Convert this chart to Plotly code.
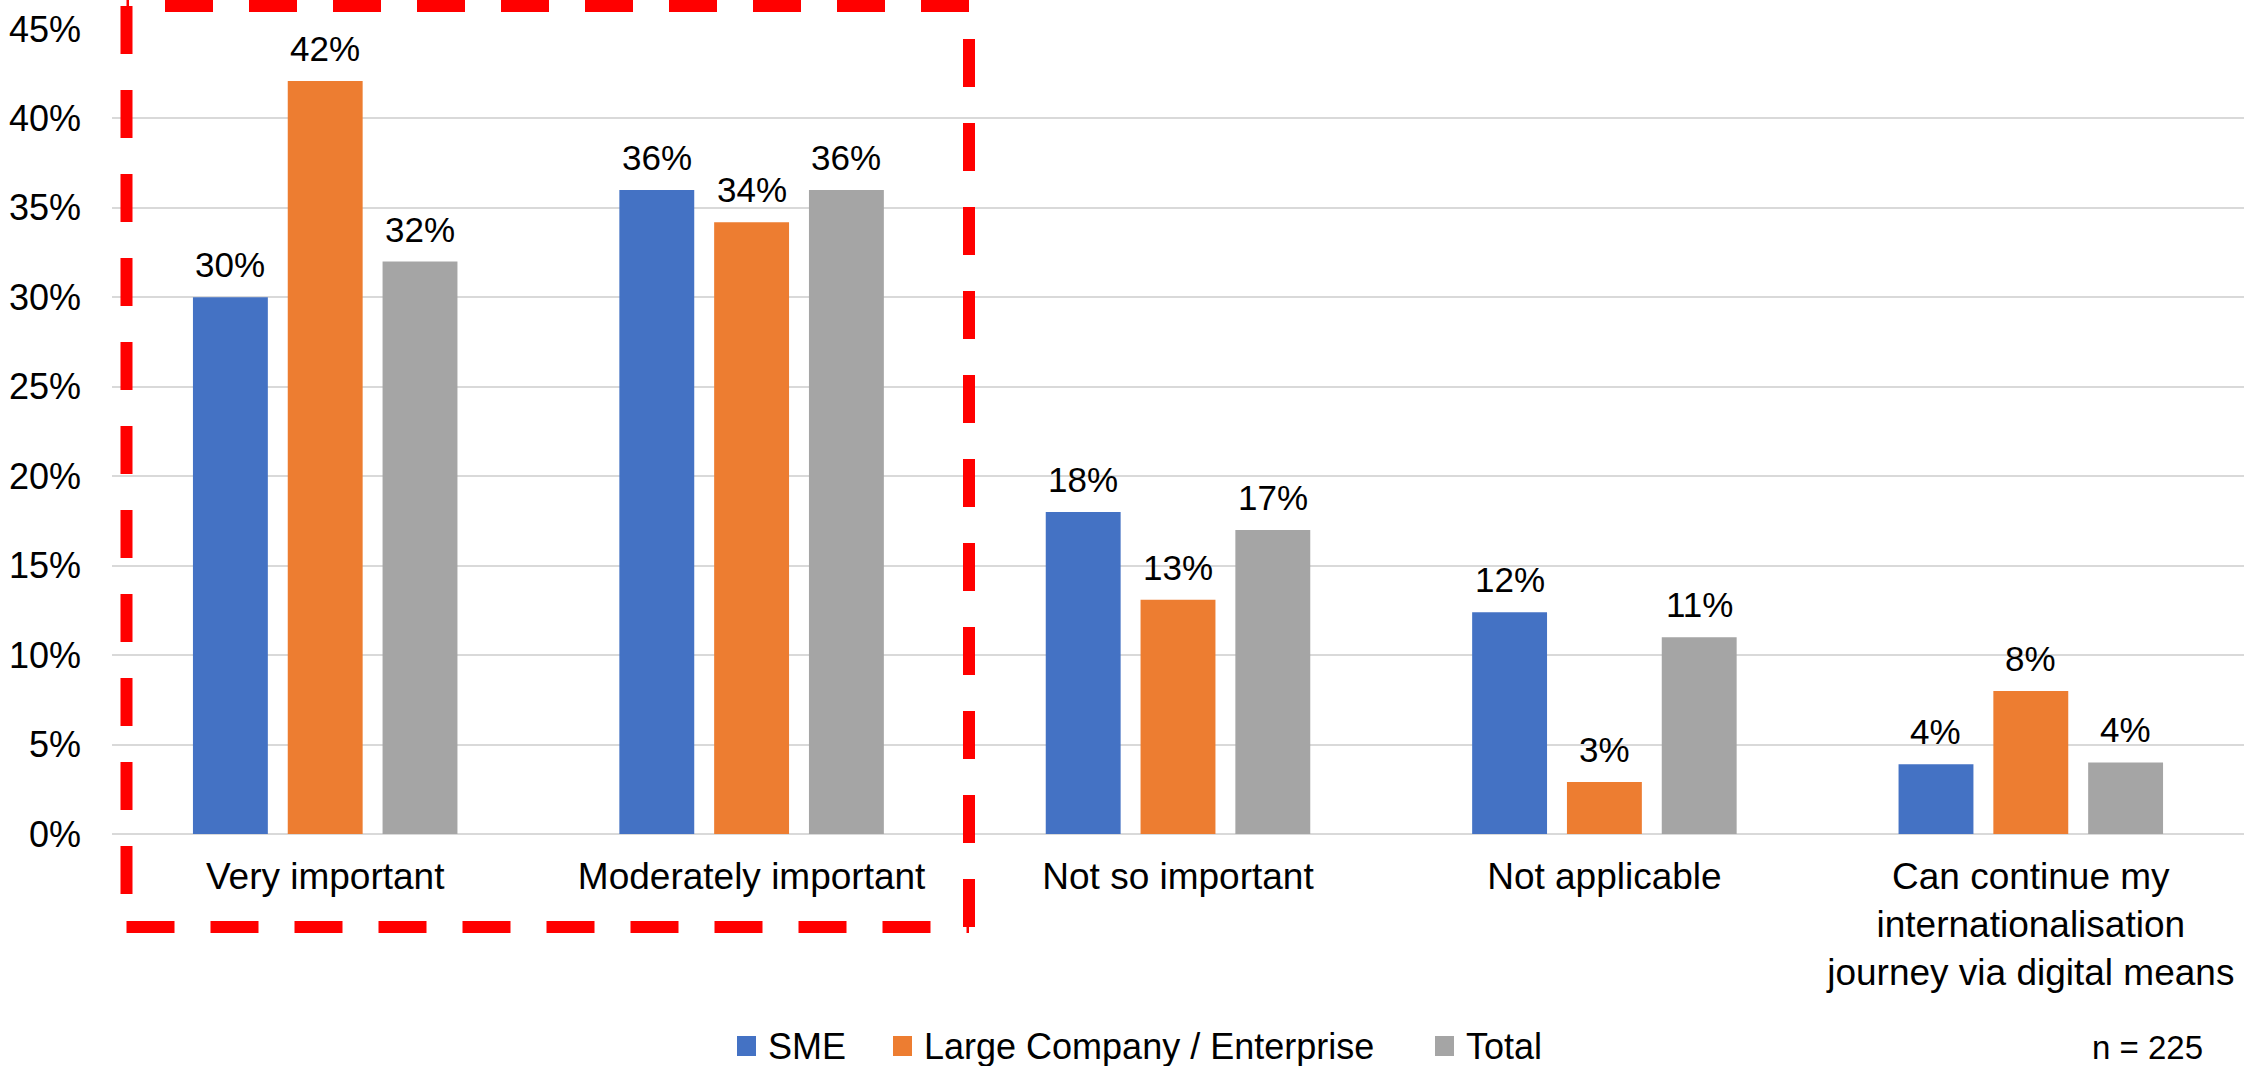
import plotly.graph_objects as go

# ---- data ----
categories = [
    "Very important",
    "Moderately important",
    "Not so important",
    "Not applicable",
    "Can continue my<br>internationalisation<br>journey via digital means",
]
series_names = ["SME", "Large Company / Enterprise", "Total"]
sme = [30.0, 36.0, 18.0, 12.4, 3.9]
large = [42.1, 34.2, 13.1, 2.9, 8.0]
total = [32.0, 36.0, 17.0, 11.0, 4.0]
y_ticks = [0, 5, 10, 15, 20, 25, 30, 35, 40, 45]
y_tick_labels = [f"{v}%" for v in y_ticks]
sample_note = "n = 225"

# ---- style ----
W, H = 2244, 1066
ML, MR, MT, MB = 112, 0, 29, 232
colors = ["#4472C4", "#ED7D31", "#A5A5A5"]
FONT = "Liberation Sans, Arial, Helvetica, sans-serif"
BARGAP = 0.333
BARGROUPGAP = 0.21

PW = W - ML - MR
PH = H - MT - MB


def px(x):
    return (x - ML) / PW


def py(y):
    return (H - MB - y) / PH


fig = go.Figure()
all_series = [sme, large, total]
for name, vals, col in zip(series_names, all_series, colors):
    fig.add_trace(go.Bar(
        x=categories, y=vals, name=name,
        marker=dict(color=col, line=dict(width=0)),
        showlegend=False,
        hoverinfo="x+y+name",
    ))

# data labels as annotations (offset to each bar of the group)
cat_w = PW / len(categories)
slot = cat_w * (1 - BARGAP) / len(all_series)
annotations = []
for i, vals in enumerate(all_series):
    off = (i - (len(all_series) - 1) / 2) * slot
    for c, v in zip(categories, vals):
        annotations.append(dict(
            x=c, y=v, xref="x", yref="y", text=f"{v:.0f}%",
            showarrow=False, xanchor="center", yanchor="bottom",
            xshift=off, yshift=11,
            font=dict(family=FONT, size=35, color="#000000"),
        ))

# manual legend
legend_sq = [(737, 756), (893, 912), (1435, 1454)]
shapes = []
for (x0, x1), name, col in zip(legend_sq, series_names, colors):
    shapes.append(dict(type="rect", xref="paper", yref="paper",
                       x0=px(x0), x1=px(x1), y0=py(1056), y1=py(1036),
                       fillcolor=col, line=dict(width=0)))
    annotations.append(dict(x=px(x1 + 10), y=py(1046), xref="paper", yref="paper",
                            text=name, showarrow=False, xanchor="left", yanchor="middle",
                            font=dict(family=FONT, size=36, color="#000000")))

annotations.append(dict(x=px(2205), y=py(1047), xref="paper", yref="paper",
                        text=sample_note, showarrow=False, xanchor="right", yanchor="middle",
                        font=dict(family=FONT, size=33, color="#000000")))

# red dashed highlight box (4 sides, each starting its own dash pattern)
BX0, BX1, BY0, BY1 = 126.5, 969, 6, 927
red = dict(color="#FF0000", width=12, dash="48px,36px")
for (xa, ya, xb, yb) in [(BX0, BY0, BX0, BY1), (BX0, BY1, BX1, BY1),
                         (BX1, BY1, BX1, BY0), (BX1, BY0, BX0, BY0)]:
    shapes.append(dict(type="line", xref="paper", yref="paper",
                       x0=px(xa), y0=py(ya), x1=px(xb), y1=py(yb),
                       line=red, layer="above"))

fig.update_layout(
    width=W, height=H,
    margin=dict(l=ML, r=MR, t=MT, b=MB, pad=0),
    paper_bgcolor="white", plot_bgcolor="white",
    barmode="group", bargap=BARGAP, bargroupgap=BARGROUPGAP,
    font=dict(family=FONT, size=34, color="#000000"),
    showlegend=False,
    annotations=annotations,
    shapes=shapes,
    xaxis=dict(
        showgrid=False, showline=False, zeroline=False, ticks="",
        tickfont=dict(family=FONT, size=37, color="#000000"),
        ticklabelstandoff=17,
    ),
    yaxis=dict(
        range=[0, 45], tickvals=y_ticks, ticktext=y_tick_labels,
        showgrid=True, gridcolor="#D9D9D9", gridwidth=2,
        zeroline=True, zerolinecolor="#D9D9D9", zerolinewidth=2,
        showline=False, ticks="",
        tickfont=dict(family=FONT, size=36, color="#000000"),
        ticklabelstandoff=30,
    ),
)

fig.write_html(
    "out.html",
    config={"displayModeBar": False},
    post_script="document.body.style.margin='0';document.body.style.padding='0';"
                "document.body.style.overflow='hidden';",
)
